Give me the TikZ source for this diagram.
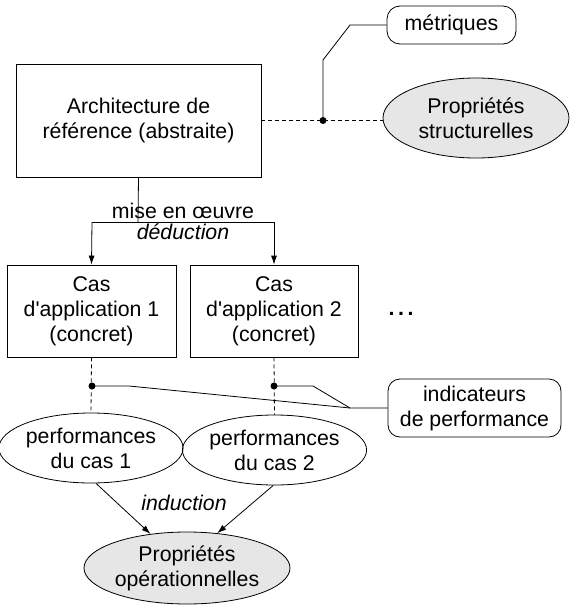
\documentclass[tikz,border=0pt]{standalone}
\usepackage{fontspec}
\setmainfont{Liberation Sans}[Ligatures=TeXOff]
\usetikzlibrary{shapes.geometric,arrows.meta}
\definecolor{fillgray}{HTML}{E6E6E6}
\tikzset{
  every node/.style={font=\fontsize{21.3}{25}\selectfont, align=center, inner sep=0pt},
  rectbox/.style={draw, line width=0.8pt, minimum width=#1},
  roundbox/.style={draw, line width=0.8pt, rounded corners=13pt},
  ell/.style={draw, ellipse, line width=0.8pt},
  grayell/.style={ell, fill=fillgray},
  conn/.style={line width=0.8pt},
  dashconn/.style={line width=0.8pt, dash pattern=on 4pt off 3pt},
  arr/.style={line width=0.8pt, -{Latex[length=9pt,width=6pt]}},
  dotmark/.style={circle, fill=black, minimum size=7pt, inner sep=0pt}
}
\begin{document}
\begin{tikzpicture}[x=1pt,y=-1pt]
\useasboundingbox (0,0) rectangle (578,608);
% nodes
\node[rectbox=245pt, minimum height=113pt] (arch) at (138.5,120.5) {Architecture de\\référence (abstraite)};
\node[rectbox=169pt, minimum height=92pt] (box1) at (91.5,311) {Cas\\d'application 1\\(concret)};
\node[rectbox=168pt, minimum height=92pt] (box2) at (274,311) {Cas\\d'application 2\\(concret)};
\node[anchor=base] (dots) at (401,315) {\textbf{.\kern3.6pt.\kern3.6pt.}};
\node[roundbox, minimum width=129pt, minimum height=38pt] (metr) at (451.5,25) {métriques};
\node[roundbox, minimum width=173pt, minimum height=58pt, rounded corners=12pt] (ind) at (474.5,408) {indicateurs\\de performance};
\node[grayell, minimum width=186pt, minimum height=80pt] (struct) at (476,118) {Propriétés\\structurelles};
\node[ell, minimum width=144pt, minimum height=70pt] (ell1) at (91,448) {performances\\du cas 1};
\node[ell, minimum width=145pt, minimum height=70pt] (ell2) at (274.5,450) {performances\\du cas 2};
\node[grayell, minimum width=206pt, minimum height=72pt] (oper) at (187,568) {Propriétés\\opérationnelles};
% labels
\node (mise) at (183,211) {mise en œuvre};
\node (ded) at (183,232) {\itshape déduction};
\node (ind2) at (184,503) {\itshape induction};
% coordinates
\coordinate (j) at (138,222);
\coordinate (jl) at (92,222);
\coordinate (jr) at (274,222);
\coordinate (d0) at (323,120.5);
\coordinate (m1) at (350,25);
\coordinate (m2) at (323,60);
\coordinate (d1) at (92,386);
\coordinate (d2) at (274,386);
\coordinate (k1) at (129,386);
\coordinate (k2) at (313,386);
\coordinate (k3) at (350,408);
% connectors
\draw[conn] (arch.south) -- (j);
\draw[conn] (jl) -- (jr);
\draw[arr] (jl) -- (box1.north);
\draw[arr] (jr) -- (box2.north);
\draw[dashconn] (arch.east) -- (struct.west |- arch.east);
\draw[conn] (metr.west) -- (m1) -- (m2) -- (d0);
\node[dotmark] (dot0) at (d0) {};
\draw[dashconn] (box1.south) -- (ell1.north);
\draw[dashconn] (box2.south) -- (ell2.north);
\draw[conn] (d1) -- (k1) -- (k3) -- (ind.west);
\draw[conn] (d2) -- (k2) -- (k3);
\node[dotmark] (dot1) at (d1) {};
\node[dotmark] (dot2) at (d2) {};
\draw[arr] (ell1.-82) -- (oper.137);
\draw[arr] (ell2.-92) -- (oper.49);
\end{tikzpicture}
\end{document}
